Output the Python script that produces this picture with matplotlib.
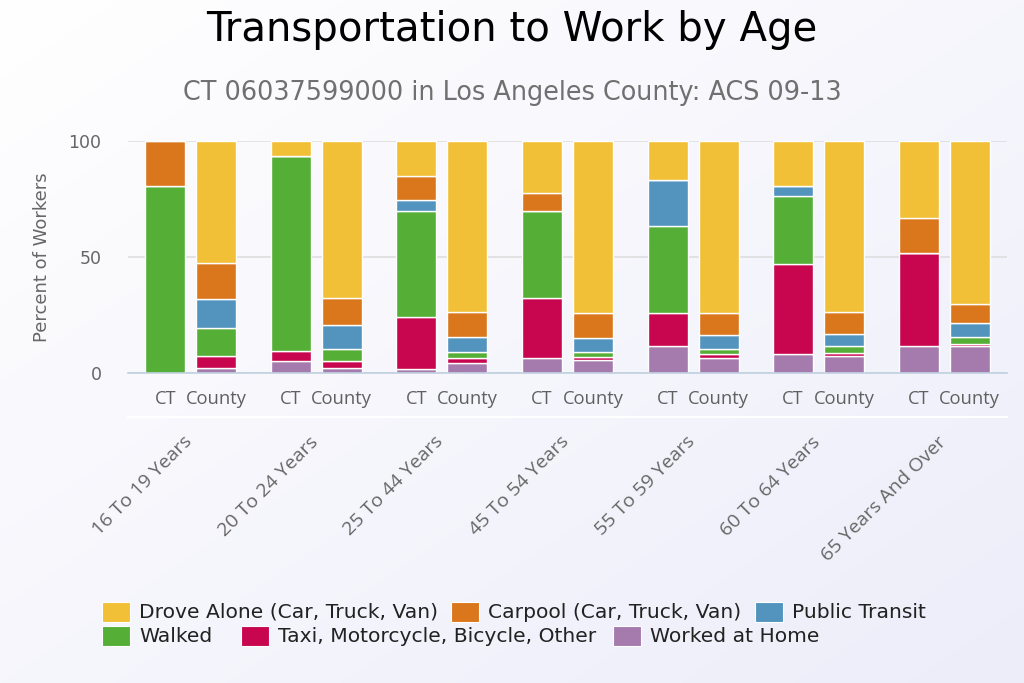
import matplotlib
matplotlib.use("Agg")
import matplotlib.pyplot as plt
import numpy as np
from matplotlib.patches import Rectangle

# ---------------- data ----------------
ages = ["16 To 19 Years", "20 To 24 Years", "25 To 44 Years", "45 To 54 Years",
        "55 To 59 Years", "60 To 64 Years", "65 Years And Over"]
sub_labels = ["CT", "County"]
series_names = ["Worked at Home", "Taxi, Motorcycle, Bicycle, Other", "Walked",
                "Public Transit", "Carpool (Car, Truck, Van)", "Drove Alone (Car, Truck, Van)"]
series_colors = ["#A57BAE", "#C8064F", "#55AE36", "#5294BE", "#DA761C", "#F2C037"]

home_ct = [0, 5.2, 1.6, 6.5, 11.8, 8.2, 11.8]
taxi_ct = [0, 4.4, 22.7, 26.0, 14.1, 38.8, 39.9]
walk_ct = [80.4, 84.1, 45.6, 37.4, 37.5, 29.1, 0]
transit_ct = [0, 0, 4.5, 0, 19.9, 4.3, 0]
carpool_ct = [19.6, 0, 10.3, 7.7, 0, 0, 15.3]
drove_ct = [0, 6.3, 15.3, 22.4, 16.7, 19.6, 33.0]

home_co = [2.3, 2.0, 4.3, 5.6, 6.6, 7.2, 11.8]
taxi_co = [5.2, 3.3, 2.2, 1.4, 1.6, 1.6, 0.6]
walk_co = [11.8, 5.1, 2.4, 2.0, 2.2, 2.8, 3.3]
transit_co = [12.6, 10.3, 6.6, 6.0, 5.9, 5.4, 5.7]
carpool_co = [15.4, 11.8, 11.0, 10.9, 9.6, 9.5, 8.2]
drove_co = [52.7, 67.5, 73.5, 74.1, 74.1, 73.5, 70.4]

ct_series = [home_ct, taxi_ct, walk_ct, transit_ct, carpool_ct, drove_ct]
co_series = [home_co, taxi_co, walk_co, transit_co, carpool_co, drove_co]

# ---------------- figure ----------------
fig = plt.figure(figsize=(10.24, 6.83), dpi=100)

# background gradient
bg = fig.add_axes([0, 0, 1, 1], zorder=-10)
gx, gy = np.meshgrid(np.linspace(0, 1, 256), np.linspace(0, 1, 256))
t = (gx + gy) / 2.0
c0 = np.array([255, 255, 255]) / 255.0
c1 = np.array([237, 237, 250]) / 255.0
img = c0[None, None, :] * (1 - t[..., None]) + c1[None, None, :] * t[..., None]
bg.imshow(img, aspect="auto", extent=[0, 1, 0, 1], origin="upper")
bg.axis("off")

W, H = 1024, 683
L, R, T, B = 128, 1007, 141, 373
ax = fig.add_axes([L / W, (H - B) / H, (R - L) / W, (B - T) / H])
ax.patch.set_alpha(0)

n = len(ages)
x = np.arange(n)
bw = 0.318
off = 0.203

for pos_off, data in ((-off, ct_series), (off, co_series)):
    bottom = np.zeros(n)
    for vals, col in zip(data, series_colors):
        v = np.array(vals, dtype=float)
        ax.bar(x + pos_off, v, bw, bottom=bottom, color=col, edgecolor="white",
               linewidth=1.0, zorder=3)
        bottom += v

ax.set_xlim(-0.5, n - 0.5)
ax.set_ylim(0, 100)
ax.set_yticks([0, 50, 100])
ax.yaxis.grid(True, color="#dcdcdc", linewidth=1.1, zorder=0)
for s in ["top", "right", "left"]:
    ax.spines[s].set_visible(False)
ax.spines["bottom"].set_color("#c0d0e0")
ax.spines["bottom"].set_linewidth(1.2)
ax.spines["bottom"].set_zorder(4)
ax.tick_params(axis="y", length=0, pad=19, labelsize=12.5, labelcolor="#666666")

ticks = np.concatenate([x - off, x + off])
labels = [sub_labels[0]] * n + [sub_labels[1]] * n
ax.set_xticks(ticks)
ax.set_xticklabels(labels, fontsize=13.2, color="#606060", family="Open Sans")
ax.tick_params(axis="x", length=0, pad=12)

ax.set_ylabel("Percent of Workers", fontsize=13, color="#666666")
ax.yaxis.set_label_coords(-0.088, 0.5)

# group separator line
trans = ax.get_xaxis_transform()
ax.plot([-0.5, n - 0.5], [-0.19, -0.19], transform=trans, color="white",
        linewidth=1.5, clip_on=False)

# age labels
for i, a in enumerate(ages):
    ax.text(i - 0.01, -0.285, a, transform=trans, rotation=45, rotation_mode="anchor",
            ha="right", va="center", fontsize=14, color="#666666", family="Open Sans")

# titles
fig.text(0.5, 1 - 30 / H, "Transportation to Work by Age", ha="center", va="center",
         fontsize=29, color="black")
fig.text(0.5, 1 - 93 / H, "CT 06037599000 in Los Angeles County: ACS 09-13",
         ha="center", va="center", fontsize=18.4, color="#707070")

# legend (flowing layout)
leg_items = [
    (5, 102, 612), (4, 451, 612), (3, 755, 612),
    (2, 102, 636), (1, 241, 636), (0, 613, 636),
]
for idx, px, py in leg_items:
    fig.patches.append(Rectangle((px / W, 1 - (py + 10) / H), 28 / W, 20 / H,
                                 transform=fig.transFigure, facecolor=series_colors[idx],
                                 edgecolor="white", linewidth=0.8))
    fig.text((px + 37) / W, 1 - py / H, series_names[idx], ha="left", va="center",
             fontsize=14.6, color="#222222")

fig.savefig("out.png", dpi=100)
